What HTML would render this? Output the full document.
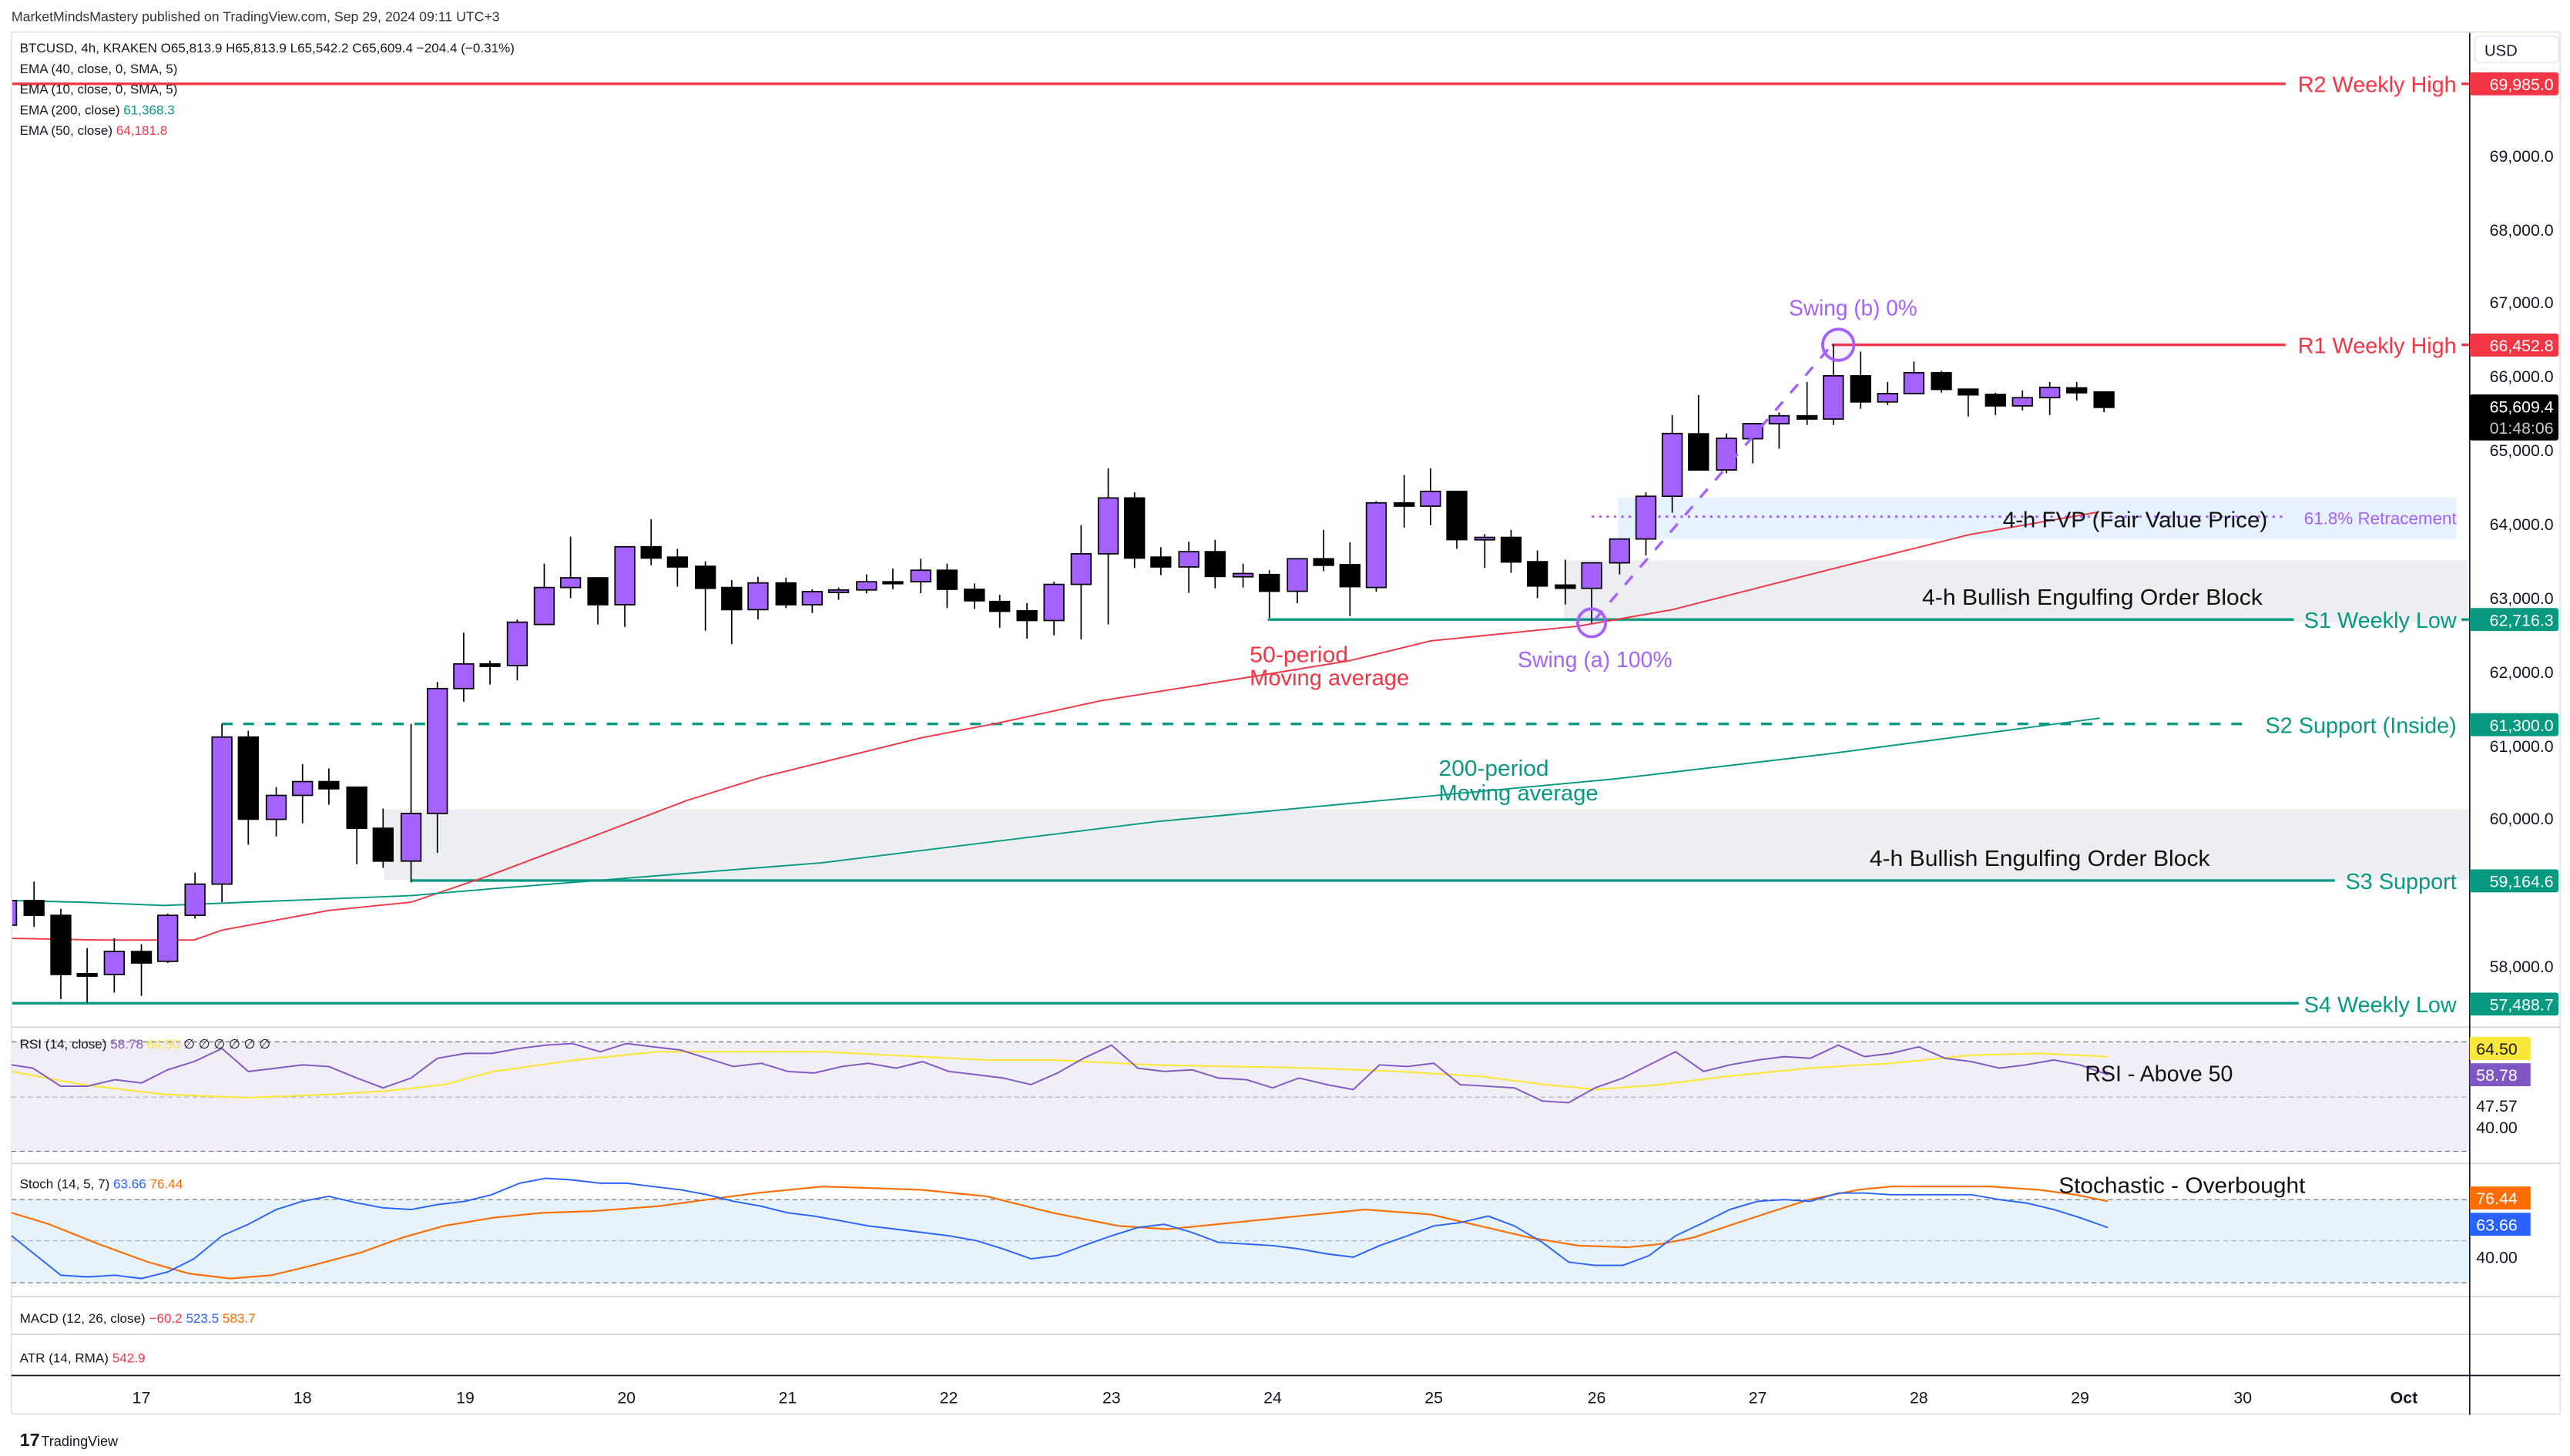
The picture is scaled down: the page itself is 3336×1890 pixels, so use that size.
<!DOCTYPE html>
<html><head><meta charset="utf-8"><style>
html,body{margin:0;padding:0;background:#fff;}
svg{display:block;}
text{font-family:"Liberation Sans",sans-serif;}
</style></head><body>
<svg width="3336" height="1890" viewBox="0 0 1563 886" preserveAspectRatio="none" xmlns="http://www.w3.org/2000/svg">
<rect x="0" y="0" width="1563" height="886" fill="#fff"/>
<text x="7" y="13" font-size="8.3" fill="#333">MarketMindsMastery published on TradingView.com, Sep 29, 2024 09:11 UTC+3</text>
<rect x="7" y="19.5" width="1550" height="841" fill="none" stroke="#e6e7ea" stroke-width="1"/>
<defs><clipPath id="cp"><rect x="7.5" y="20" width="1494" height="605"/></clipPath></defs>

<g clip-path="url(#cp)">
<rect x="984" y="302.7" width="510" height="25.3" fill="#e6f2fe"/>
<rect x="951" y="341" width="550" height="37.7" fill="#eceef1"/>
<rect x="233.6" y="492.5" width="1268" height="43" fill="#eceef1"/>

<line x1="7" y1="51" x2="1390" y2="51" stroke="#f23645" stroke-width="1.6"/>
<line x1="1497" y1="51" x2="1502" y2="51" stroke="#f23645" stroke-width="1.6"/>
<line x1="1114" y1="209.8" x2="1390" y2="209.8" stroke="#f23645" stroke-width="1.6"/>
<line x1="1497" y1="209.8" x2="1502" y2="209.8" stroke="#f23645" stroke-width="1.6"/>
<line x1="968" y1="314.4" x2="1390" y2="314.4" stroke="#a561fc" stroke-width="1.4" stroke-dasharray="1.5,3"/>
<line x1="771" y1="377" x2="1395" y2="377" stroke="#089981" stroke-width="1.6"/>
<line x1="1497" y1="377" x2="1502" y2="377" stroke="#089981" stroke-width="1.6"/>
<line x1="135" y1="440.5" x2="1370" y2="440.5" stroke="#089981" stroke-width="1.6" stroke-dasharray="6.5,6.5"/>
<line x1="250" y1="535.8" x2="1420" y2="535.8" stroke="#089981" stroke-width="1.6"/>
<line x1="7" y1="610.5" x2="1398" y2="610.5" stroke="#089981" stroke-width="1.6"/>

<polyline fill="none" stroke="#f23645" stroke-width="0.9" points="7,571 60,572 118,572 135,566 200,554 250,549 297,533 350,513 418,487 463,473 560,449 607,440 669,426.5 760,412 821,402 870,390 960,381 1017,371 1115,346 1197,325.5 1276,311.6"/>
<polyline fill="none" stroke="#089981" stroke-width="0.9" points="7,548 50,549 100,551 250,545 297,541 500,525 703,500 820,489 982,474 1110,459 1277,437"/>

<g stroke="#000" stroke-width="0.8">
<line x1="4" y1="545" x2="4" y2="566"/><rect x="-2" y="548" width="12" height="15" fill="#a561fc"/>
<line x1="20.7" y1="536.5" x2="20.7" y2="564"/><rect x="14.7" y="548" width="12" height="9" fill="#000"/>
<line x1="37" y1="553" x2="37" y2="608"/><rect x="31" y="557" width="12" height="36" fill="#000"/>
<line x1="53" y1="577" x2="53" y2="610"/><rect x="47" y="592.5" width="12" height="1.5" fill="#000"/>
<line x1="69.5" y1="571" x2="69.5" y2="604"/><rect x="63.5" y="579" width="12" height="14" fill="#a561fc"/>
<line x1="86" y1="574.5" x2="86" y2="606"/><rect x="80" y="579" width="12" height="7" fill="#000"/>
<line x1="102" y1="556" x2="102" y2="586"/><rect x="96" y="557" width="12" height="28" fill="#a561fc"/>
<line x1="118.6" y1="531" x2="118.6" y2="559"/><rect x="112.6" y="538" width="12" height="19" fill="#a561fc"/>
<line x1="135" y1="440.5" x2="135" y2="549"/><rect x="129" y="448.5" width="12" height="89.5" fill="#a561fc"/>
<line x1="151" y1="444.7" x2="151" y2="514"/><rect x="145" y="448.5" width="12" height="50" fill="#000"/>
<line x1="168" y1="479" x2="168" y2="509"/><rect x="162" y="484" width="12" height="14.6" fill="#a561fc"/>
<line x1="184" y1="465" x2="184" y2="501"/><rect x="178" y="475.6" width="12" height="8.4" fill="#a561fc"/>
<line x1="200" y1="467.6" x2="200" y2="489.7"/><rect x="194" y="475.6" width="12" height="4.4" fill="#000"/>
<line x1="217" y1="479" x2="217" y2="526"/><rect x="211" y="479" width="12" height="25" fill="#000"/>
<line x1="233" y1="492" x2="233" y2="528"/><rect x="227" y="504" width="12" height="20" fill="#000"/>
<line x1="250" y1="440.5" x2="250" y2="537"/><rect x="244" y="495" width="12" height="29" fill="#a561fc"/>
<line x1="266" y1="415" x2="266" y2="519"/><rect x="260" y="419" width="12" height="76" fill="#a561fc"/>
<line x1="282" y1="385" x2="282" y2="427"/><rect x="276" y="404" width="12" height="15" fill="#a561fc"/>
<line x1="298" y1="402" x2="298" y2="416.6"/><rect x="292" y="404" width="12" height="1.5" fill="#000"/>
<line x1="314.6" y1="377" x2="314.6" y2="414"/><rect x="308.6" y="378.6" width="12" height="26.4" fill="#a561fc"/>
<line x1="331" y1="343" x2="331" y2="380.5"/><rect x="325" y="357.5" width="12" height="22.5" fill="#a561fc"/>
<line x1="347" y1="326.6" x2="347" y2="364"/><rect x="341" y="351.6" width="12" height="5.9" fill="#a561fc"/>
<line x1="363.6" y1="351.6" x2="363.6" y2="380"/><rect x="357.6" y="351.6" width="12" height="16.4" fill="#000"/>
<line x1="380" y1="332.7" x2="380" y2="381.5"/><rect x="374" y="332.7" width="12" height="35.3" fill="#a561fc"/>
<line x1="396" y1="316" x2="396" y2="344"/><rect x="390" y="332.7" width="12" height="6.9" fill="#000"/>
<line x1="412" y1="334" x2="412" y2="357"/><rect x="406" y="339" width="12" height="6" fill="#000"/>
<line x1="429" y1="341.6" x2="429" y2="383.8"/><rect x="423" y="344.6" width="12" height="13.4" fill="#000"/>
<line x1="445" y1="353" x2="445" y2="392"/><rect x="439" y="357.5" width="12" height="13.5" fill="#000"/>
<line x1="461" y1="351" x2="461" y2="377"/><rect x="455" y="354.7" width="12" height="16.3" fill="#a561fc"/>
<line x1="478" y1="351.5" x2="478" y2="370"/><rect x="472" y="354.7" width="12" height="13.3" fill="#000"/>
<line x1="494" y1="358.6" x2="494" y2="373"/><rect x="488" y="360" width="12" height="8" fill="#a561fc"/>
<line x1="510" y1="357.5" x2="510" y2="365"/><rect x="504" y="359" width="12" height="1.5" fill="#a561fc"/>
<line x1="527" y1="349.6" x2="527" y2="361"/><rect x="521" y="354" width="12" height="5" fill="#a561fc"/>
<line x1="543" y1="346" x2="543" y2="358.6"/><rect x="537" y="354" width="12" height="1.2" fill="#000"/>
<line x1="560" y1="340" x2="560" y2="361"/><rect x="554" y="347" width="12" height="7" fill="#a561fc"/>
<line x1="576" y1="343" x2="576" y2="370"/><rect x="570" y="347" width="12" height="11.6" fill="#000"/>
<line x1="592.6" y1="355" x2="592.6" y2="370.6"/><rect x="586.6" y="358.6" width="12" height="7" fill="#000"/>
<line x1="608" y1="362" x2="608" y2="382"/><rect x="602" y="366" width="12" height="6" fill="#000"/>
<line x1="624.6" y1="367" x2="624.6" y2="388.6"/><rect x="618.6" y="371.7" width="12" height="5.9" fill="#000"/>
<line x1="641" y1="354" x2="641" y2="386.6"/><rect x="635" y="355.6" width="12" height="22" fill="#a561fc"/>
<line x1="657.5" y1="319.6" x2="657.5" y2="389"/><rect x="651.5" y="337" width="12" height="18.6" fill="#a561fc"/>
<line x1="674" y1="285" x2="674" y2="380"/><rect x="668" y="303" width="12" height="34" fill="#a561fc"/>
<line x1="690" y1="299.6" x2="690" y2="345.6"/><rect x="684" y="303" width="12" height="36.6" fill="#000"/>
<line x1="706" y1="333" x2="706" y2="350"/><rect x="700" y="339" width="12" height="6" fill="#000"/>
<line x1="723" y1="329.6" x2="723" y2="360.8"/><rect x="717" y="335.7" width="12" height="9.3" fill="#a561fc"/>
<line x1="739" y1="328.5" x2="739" y2="358"/><rect x="733" y="335.7" width="12" height="15.1" fill="#000"/>
<line x1="756" y1="343" x2="756" y2="357.5"/><rect x="750" y="349" width="12" height="2" fill="#a561fc"/>
<line x1="772" y1="347" x2="772" y2="376"/><rect x="766" y="349.6" width="12" height="10.2" fill="#000"/>
<line x1="789" y1="340" x2="789" y2="367"/><rect x="783" y="340" width="12" height="19.8" fill="#a561fc"/>
<line x1="805" y1="322.4" x2="805" y2="347.6"/><rect x="799" y="340" width="12" height="4" fill="#000"/>
<line x1="821" y1="330" x2="821" y2="375"/><rect x="815" y="343.6" width="12" height="13.4" fill="#000"/>
<line x1="837" y1="305" x2="837" y2="360"/><rect x="831" y="306" width="12" height="51.5" fill="#a561fc"/>
<line x1="854" y1="289" x2="854" y2="321"/><rect x="848" y="306" width="12" height="2" fill="#000"/>
<line x1="870" y1="285" x2="870" y2="319.6"/><rect x="864" y="299" width="12" height="9" fill="#a561fc"/>
<line x1="886" y1="299" x2="886" y2="334"/><rect x="880" y="299" width="12" height="29.4" fill="#000"/>
<line x1="903" y1="325" x2="903" y2="345.6"/><rect x="897" y="327" width="12" height="1.5" fill="#a561fc"/>
<line x1="919" y1="322.4" x2="919" y2="348.6"/><rect x="913" y="327" width="12" height="15" fill="#000"/>
<line x1="935" y1="335" x2="935" y2="364"/><rect x="929" y="341.8" width="12" height="14.8" fill="#000"/>
<line x1="952" y1="340.6" x2="952" y2="367.8"/><rect x="946" y="356" width="12" height="2" fill="#000"/>
<line x1="968" y1="342.5" x2="968" y2="379"/><rect x="962" y="342.5" width="12" height="15.5" fill="#a561fc"/>
<line x1="985" y1="328" x2="985" y2="349.6"/><rect x="979" y="328" width="12" height="14.5" fill="#a561fc"/>
<line x1="1001" y1="299.6" x2="1001" y2="338"/><rect x="995" y="302" width="12" height="26" fill="#a561fc"/>
<line x1="1017" y1="252.6" x2="1017" y2="312"/><rect x="1011" y="263.8" width="12" height="38.2" fill="#a561fc"/>
<line x1="1033" y1="240.4" x2="1033" y2="286"/><rect x="1027" y="264" width="12" height="22" fill="#000"/>
<line x1="1050" y1="263.8" x2="1050" y2="288"/><rect x="1044" y="266.7" width="12" height="19.3" fill="#a561fc"/>
<line x1="1066" y1="257.3" x2="1066" y2="282"/><rect x="1060" y="257.8" width="12" height="9.2" fill="#a561fc"/>
<line x1="1082" y1="251" x2="1082" y2="273"/><rect x="1076" y="253" width="12" height="4.8" fill="#a561fc"/>
<line x1="1099" y1="232.4" x2="1099" y2="258.6"/><rect x="1093" y="253" width="12" height="2" fill="#000"/>
<line x1="1115" y1="209.5" x2="1115" y2="258.6"/><rect x="1109" y="228.7" width="12" height="26.3" fill="#a561fc"/>
<line x1="1131.6" y1="214" x2="1131.6" y2="248.8"/><rect x="1125.6" y="228.7" width="12" height="15.9" fill="#000"/>
<line x1="1148" y1="232.4" x2="1148" y2="246.5"/><rect x="1142" y="239.5" width="12" height="5.1" fill="#a561fc"/>
<line x1="1164" y1="220" x2="1164" y2="239.5"/><rect x="1158" y="226.8" width="12" height="12.7" fill="#a561fc"/>
<line x1="1180.7" y1="225.7" x2="1180.7" y2="239"/><rect x="1174.7" y="226.8" width="12" height="10.2" fill="#000"/>
<line x1="1197" y1="236.8" x2="1197" y2="253.5"/><rect x="1191" y="236.8" width="12" height="3.5" fill="#000"/>
<line x1="1213.6" y1="239" x2="1213.6" y2="252.6"/><rect x="1207.6" y="240" width="12" height="7" fill="#000"/>
<line x1="1230" y1="237.6" x2="1230" y2="249.7"/><rect x="1224" y="242" width="12" height="5" fill="#a561fc"/>
<line x1="1246.6" y1="232.4" x2="1246.6" y2="252.6"/><rect x="1240.6" y="235.7" width="12" height="6.3" fill="#a561fc"/>
<line x1="1263" y1="232.4" x2="1263" y2="243.7"/><rect x="1257" y="236" width="12" height="3" fill="#000"/>
<line x1="1279.6" y1="238.5" x2="1279.6" y2="250.8"/><rect x="1273.6" y="238.5" width="12" height="9.4" fill="#000"/>
</g>

<line x1="970" y1="377" x2="1114" y2="210" stroke="#a561fc" stroke-width="1.6" stroke-dasharray="7,7"/>
<circle cx="968" cy="379" r="8.5" fill="rgba(165,97,252,0.08)" stroke="#a561fc" stroke-width="1.8"/>
<circle cx="1118" cy="209.8" r="9.5" fill="rgba(165,97,252,0.08)" stroke="#a561fc" stroke-width="1.8"/>
</g>

<g font-size="13.5" lengthAdjust="spacingAndGlyphs">
<text x="1088" y="192" fill="#a561fc" textLength="78" lengthAdjust="spacingAndGlyphs">Swing (b) 0%</text>
<text x="923" y="406" fill="#a561fc" textLength="94" lengthAdjust="spacingAndGlyphs">Swing (a) 100%</text>
<text x="1218" y="321" fill="#111" textLength="161" lengthAdjust="spacingAndGlyphs">4-h FVP (Fair Value Price)</text>
<text x="1169" y="368" fill="#111" textLength="207" lengthAdjust="spacingAndGlyphs">4-h Bullish Engulfing Order Block</text>
<text x="1137" y="527" fill="#111" textLength="207" lengthAdjust="spacingAndGlyphs">4-h Bullish Engulfing Order Block</text>
<text x="760" y="403" fill="#f23645" textLength="60" lengthAdjust="spacingAndGlyphs">50-period</text>
<text x="760" y="417" fill="#f23645" textLength="97" lengthAdjust="spacingAndGlyphs">Moving average</text>
<text x="875" y="472" fill="#089981" textLength="67" lengthAdjust="spacingAndGlyphs">200-period</text>
<text x="875" y="487" fill="#089981" textLength="97" lengthAdjust="spacingAndGlyphs">Moving average</text>
</g>
<g font-size="13.5" text-anchor="end">
<text x="1494" y="56" fill="#f23645">R2 Weekly High</text>
<text x="1494" y="215" fill="#f23645">R1 Weekly High</text>
<text x="1494" y="319" fill="#a561fc" font-size="10.5">61.8% Retracement</text>
<text x="1494" y="382" fill="#089981">S1 Weekly Low</text>
<text x="1494" y="446" fill="#089981">S2 Support (Inside)</text>
<text x="1494" y="541" fill="#089981">S3 Support</text>
<text x="1494" y="616" fill="#089981">S4 Weekly Low</text>
</g>

<g font-size="8" fill="#131722">
<text x="12" y="32">BTCUSD, 4h, KRAKEN  O65,813.9  H65,813.9  L65,542.2  C65,609.4  −204.4 (−0.31%)</text>
<text x="12" y="44.5">EMA (40, close, 0, SMA, 5)</text>
<text x="12" y="57">EMA (10, close, 0, SMA, 5)</text>
<text x="12" y="69.5">EMA (200, close) <tspan fill="#089981">61,368.3</tspan></text>
<text x="12" y="82">EMA (50, close) <tspan fill="#f23645">64,181.8</tspan></text>
</g>

<line x1="7" y1="625" x2="1557" y2="625" stroke="#d1d4dc" stroke-width="0.8"/>
<line x1="7" y1="708" x2="1557" y2="708" stroke="#d1d4dc" stroke-width="0.8"/>
<line x1="7" y1="789" x2="1557" y2="789" stroke="#d1d4dc" stroke-width="0.8"/>
<line x1="7" y1="812" x2="1557" y2="812" stroke="#d1d4dc" stroke-width="0.8"/>
<line x1="7" y1="837" x2="1557" y2="837" stroke="#131722" stroke-width="0.8"/>

<rect x="7" y="634" width="1495" height="66.6" fill="#f2eef8"/>
<g stroke="#787b86" stroke-width="0.6" stroke-dasharray="3,2">
<line x1="7" y1="634" x2="1502" y2="634"/><line x1="7" y1="700.6" x2="1502" y2="700.6"/>
</g>
<line x1="7" y1="667.6" x2="1502" y2="667.6" stroke="#b2b5be" stroke-width="0.6" stroke-dasharray="3,2"/>
<polyline fill="none" stroke="#fbe63a" stroke-width="1" points="7,652 50,660 100,666 150,668 200,666 233,664 270,660 300,652 350,645 400,640 500,640 600,645 640,645 700,648 800,650 850,652 900,655 940,660 970,663 1010,660 1050,655 1100,650 1150,647 1200,642 1240,641 1282,643"/>
<polyline fill="none" stroke="#7e57c2" stroke-width="0.9" points="7,648 20,650 37,661 53,661 70,657 86,659 102,651 118,646 135,638 151,652 168,650 184,648 200,649 217,656 233,662 250,656 266,644 283,641 299,641 316,638 332,636 348,635 365,640 381,635 397,637 414,639 430,644 446,649 463,647 479,652 495,653 512,649 528,647 545,650 561,646 577,652 594,654 610,656 627,660 643,653 659,644 676,636 692,650 708,652 725,651 741,656 758,657 774,662 790,656 807,660 823,663 839,648 856,649 872,647 888,660 905,661 921,662 938,670 954,671 970,662 987,656 1003,648 1019,640 1036,652 1052,648 1069,645 1085,643 1101,644 1118,636 1134,643 1150,641 1167,637 1183,644 1199,646 1216,650 1232,648 1249,645 1265,648 1282,654"/>
<text x="12" y="638" font-size="8" fill="#131722">RSI (14, close) <tspan fill="#7e57c2">58.78</tspan> <tspan fill="#fbe63a">64.50</tspan> ∅ ∅ ∅ ∅ ∅ ∅</text>
<text x="1268" y="658" font-size="13.5" fill="#111" textLength="90" lengthAdjust="spacingAndGlyphs">RSI - Above 50</text>

<rect x="7" y="730" width="1495" height="50.6" fill="#e6f3fd"/>
<g stroke="#787b86" stroke-width="0.6" stroke-dasharray="3,2">
<line x1="7" y1="730" x2="1502" y2="730"/><line x1="7" y1="780.6" x2="1502" y2="780.6"/>
</g>
<line x1="7" y1="755" x2="1502" y2="755" stroke="#b2b5be" stroke-width="0.6" stroke-dasharray="3,2"/>
<polyline fill="none" stroke="#ff6d00" stroke-width="1" points="7,738 30,745 60,757 90,768 115,775 140,778 165,776 190,770 220,762 245,753 270,746 300,741 330,738 360,737 400,734 430,730 460,726 500,722 560,724 600,728 640,738 680,746 710,748 750,744 790,740 830,736 870,739 900,746 930,753 960,758 990,759 1010,757 1030,753 1060,743 1100,730 1130,724 1150,722 1180,722 1210,722 1240,724 1262,727 1282,731"/>
<polyline fill="none" stroke="#2962ff" stroke-width="0.9" points="7,752 37,776 53,777 70,776 86,778 102,774 118,766 135,752 151,745 168,736 184,731 200,728 217,732 233,735 250,736 266,733 283,731 299,727 316,720 332,717 348,718 365,720 381,720 397,722 414,724 430,727 446,731 463,734 479,738 495,740 512,743 528,746 545,748 561,750 577,752 594,755 610,760 627,766 643,764 659,758 676,752 692,747 708,745 725,750 741,756 758,757 774,758 790,760 807,763 823,765 839,758 856,752 872,746 888,744 905,740 921,746 938,756 954,768 970,770 987,770 1003,764 1019,752 1036,744 1052,736 1069,731 1085,730 1101,731 1118,726 1134,726 1150,727 1167,727 1183,727 1199,727 1216,730 1232,732 1249,736 1265,741 1282,747"/>
<text x="12" y="723" font-size="8" fill="#131722">Stoch (14, 5, 7) <tspan fill="#2962ff">63.66</tspan> <tspan fill="#ff6d00">76.44</tspan></text>
<text x="1252" y="726" font-size="13.5" fill="#111" textLength="150" lengthAdjust="spacingAndGlyphs">Stochastic - Overbought</text>

<text x="12" y="805" font-size="8" fill="#131722">MACD (12, 26, close) <tspan fill="#f23645">−60.2</tspan> <tspan fill="#2962ff">523.5</tspan> <tspan fill="#ff6d00">583.7</tspan></text>
<text x="12" y="829" font-size="8" fill="#131722">ATR (14, RMA) <tspan fill="#f23645">542.9</tspan></text>

<g font-size="10" fill="#131722" text-anchor="middle">
<text x="86" y="854">17</text><text x="184" y="854">18</text><text x="283" y="854">19</text><text x="381" y="854">20</text><text x="479" y="854">21</text><text x="577" y="854">22</text><text x="676" y="854">23</text><text x="774" y="854">24</text><text x="872" y="854">25</text><text x="971" y="854">26</text><text x="1069" y="854">27</text><text x="1167" y="854">28</text><text x="1265" y="854">29</text><text x="1364" y="854">30</text><text x="1462" y="854" font-weight="bold">Oct</text>
</g>

<line x1="1502" y1="20" x2="1502" y2="861" stroke="#131722" stroke-width="0.8"/>
<rect x="1505" y="22" width="51" height="16" rx="3" fill="#fff" stroke="#e0e3eb" stroke-width="0.6"/>
<text x="1511" y="34" font-size="9.5" fill="#131722">USD</text>
<g font-size="10" fill="#131722" text-anchor="end">
<text x="1553" y="98.5">69,000.0</text><text x="1553" y="143.5">68,000.0</text><text x="1553" y="187.5">67,000.0</text><text x="1553" y="232.5">66,000.0</text><text x="1553" y="277.5">65,000.0</text><text x="1553" y="322.5">64,000.0</text><text x="1553" y="367.5">63,000.0</text><text x="1553" y="412.5">62,000.0</text><text x="1553" y="457.5">61,000.0</text><text x="1553" y="501.5">60,000.0</text><text x="1553" y="591.5">58,000.0</text>
<text x="1531" y="676.5">47.57</text><text x="1531" y="689.5">40.00</text><text x="1531" y="768.5">40.00</text>
</g>
<g font-size="10" fill="#fff" text-anchor="end">
<rect x="1502" y="44" width="54" height="14" rx="1.5" fill="#f23645"/><text x="1553" y="54.8">69,985.0</text>
<rect x="1502" y="203" width="54" height="14" rx="1.5" fill="#f23645"/><text x="1553" y="213.8">66,452.8</text>
<rect x="1502" y="240" width="54" height="28" rx="1.5" fill="#000"/><text x="1553" y="251">65,609.4</text><text x="1553" y="264" fill="#c8c8c8">01:48:06</text>
<rect x="1502" y="370" width="54" height="14" rx="1.5" fill="#089981"/><text x="1553" y="380.8">62,716.3</text>
<rect x="1502" y="434" width="54" height="14" rx="1.5" fill="#089981"/><text x="1553" y="444.8">61,300.0</text>
<rect x="1502" y="529" width="54" height="14" rx="1.5" fill="#089981"/><text x="1553" y="539.8">59,164.6</text>
<rect x="1502" y="604" width="54" height="14" rx="1.5" fill="#089981"/><text x="1553" y="614.8">57,488.7</text>
<rect x="1502" y="631" width="37" height="14" fill="#fbe63a"/><text x="1531" y="641.8" fill="#131722">64.50</text>
<rect x="1502" y="647" width="37" height="14" fill="#7e57c2"/><text x="1531" y="657.8">58.78</text>
<rect x="1502" y="722" width="37" height="14" fill="#ff6d00"/><text x="1531" y="732.8">76.44</text>
<rect x="1502" y="738" width="37" height="14" fill="#2962ff"/><text x="1531" y="748.8">63.66</text>
</g>

<text x="12" y="880" font-size="11" font-weight="bold" fill="#131722">17</text>
<text x="25" y="880" font-size="8.5" fill="#131722">TradingView</text>
</svg>
</body></html>
